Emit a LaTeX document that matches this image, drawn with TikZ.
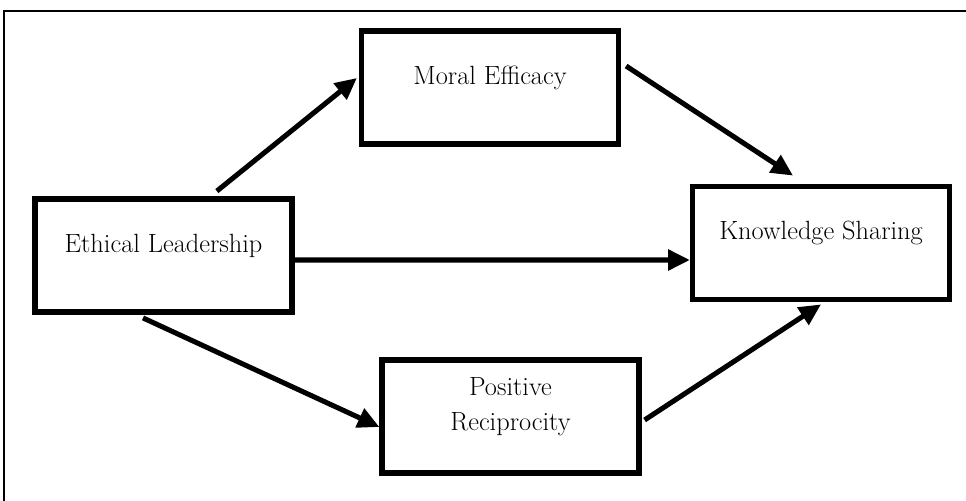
\documentclass[tikz,border=0pt]{standalone}
\usepackage{tikz}
\usetikzlibrary{arrows.meta}

\tikzset{
  varbox/.style={draw, line width=4.7pt, minimum width=7.7cm, minimum height=3.4cm},
  vartext/.style={yshift=0.3cm, align=center, font=\fontsize{22.5}{30}\selectfont},
  pathline/.style={line width=4.3pt, -{Triangle[length=0.65cm, width=0.6cm]}},
  frameline/.style={line width=1.7pt}
}

\begin{document}
\begin{tikzpicture}[x=0.03cm, y=-0.03cm]
  \useasboundingbox (0,0) rectangle (966,501);
  \draw[frameline] (966,11) -- (4,11) -- (4,501);

  % variables
  \node[varbox, label={[vartext]center:Ethical Leadership}] (el) at (163.5,255.5) {};
  \node[varbox, label={[vartext]center:Moral Efficacy}] (me) at (490,87.5) {};
  \node[varbox, label={[vartext]center:Knowledge Sharing}] (ks) at (821,243) {};
  \node[varbox, label={[vartext]center:Positive\\Reciprocity}] (pr) at (510.5,416.5) {};

  % paths
  \draw[pathline] ([xshift=1.6cm, yshift=0.15cm]el.north) -- ([xshift=-0.06cm, yshift=0.285cm]me.west);
  \draw[pathline] ([xshift=0.15cm, yshift=0.645cm]me.east) -- ([xshift=-0.84cm, yshift=0.24cm]ks.north);
  \draw[pathline] ([yshift=-0.135cm]el.east) -- ([yshift=-0.51cm]ks.west);
  \draw[pathline] ([xshift=-0.615cm, yshift=-0.09cm]el.south) -- ([yshift=-0.315cm]pr.west);
  \draw[pathline] ([xshift=0.09cm, yshift=-0.105cm]pr.east) -- ([yshift=-0.06cm]ks.south);
\end{tikzpicture}
\end{document}
